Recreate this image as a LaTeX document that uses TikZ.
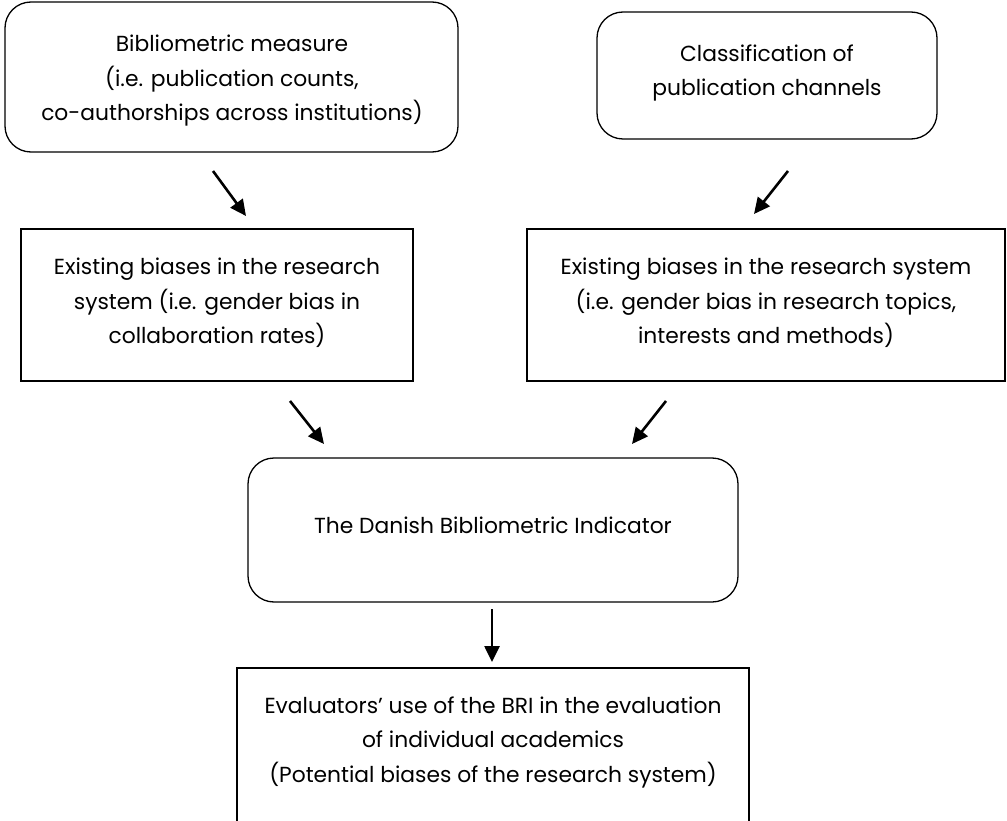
\documentclass[tikz,border=0pt]{standalone}
\usepackage{fontspec}
\setmainfont{Poppins}
\usetikzlibrary{arrows.meta}
\begin{document}
\begin{tikzpicture}[x=1pt,y=-1pt,
  txt/.style={align=center,font=\fontsize{21.8}{34.5}\selectfont,inner sep=0pt},
  roundbox/.style={draw,line width=1.3pt,rounded corners=26pt},
  squarebox/.style={draw,line width=1.3pt},
  flow/.style={line width=2.6pt,-{Triangle[length=16pt,width=15pt]}}]
\useasboundingbox (0,0) rectangle (1007,821);
\clip (0,0) rectangle (1007,821);
% boxes
\draw[roundbox] (5,2) rectangle (458,152);
\draw[roundbox] (597,12) rectangle (937,139);
\draw[squarebox] (21,229) rectangle (413,381);
\draw[squarebox] (527,229) rectangle (1005,381);
\draw[roundbox] (248,458) rectangle (738,602);
\draw[squarebox] (237,668) rectangle (749,840);
% texts
\node[txt] (measure) at (232,81) {Bibliometric measure\\(i.e. publication counts,\\co-authorships across institutions)};
\node[txt] (channels) at (767,73) {Classification of\\publication channels};
\node[txt] (biasA) at (217,303) {Existing biases in the research\\system (i.e. gender bias in\\collaboration rates)};
\node[txt] (biasB) at (766,303) {Existing biases in the research system\\(i.e. gender bias in research topics,\\interests and methods)};
\node[txt] (indicator) at (493,525) {The Danish Bibliometric Indicator};
\node[txt] (use) at (493,742) {Evaluators’ use of the BRI in the evaluation\\of individual academics\\(Potential biases of the research system)};
% arrows
\coordinate (a1s) at (213,171); \coordinate (a1e) at (246,216);
\coordinate (a2s) at (788,171); \coordinate (a2e) at (754,214);
\coordinate (a3s) at (290,401); \coordinate (a3e) at (324,444);
\coordinate (a4s) at (666,401); \coordinate (a4e) at (632,444);
\coordinate (a5s) at (492,609); \coordinate (a5e) at (492,662);
\draw[flow] (a1s) -- (a1e);
\draw[flow] (a2s) -- (a2e);
\draw[flow] (a3s) -- (a3e);
\draw[flow] (a4s) -- (a4e);
\draw[flow] (a5s) -- (a5e);
\end{tikzpicture}
\end{document}
